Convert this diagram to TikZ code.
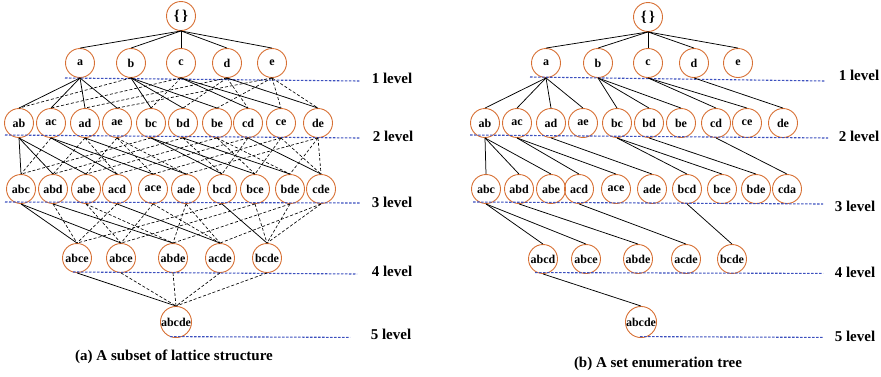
\documentclass[tikz,border=0pt]{standalone}
\usepackage{fontspec}
\setmainfont{Liberation Serif}
\definecolor{nodeorange}{RGB}{215,112,52}
\definecolor{levelblue}{RGB}{60,80,190}
\begin{document}
\begin{tikzpicture}[x=1pt,y=-1pt,
  setnode/.style={circle,draw=nodeorange,line width=0.9pt,minimum size=29pt,inner sep=0pt,
    font=\bfseries\fontsize{12}{12}\selectfont},
  tree/.style={draw=black,line width=0.75pt},
  lat/.style={draw=black,line width=0.65pt,dash pattern=on 3pt off 2pt},
  levelline/.style={draw=levelblue,line width=1.1pt,dash pattern=on 2.5pt off 1.5pt},
  leveltext/.style={font=\bfseries\fontsize{15}{15}\selectfont},
  captext/.style={font=\bfseries\fontsize{15}{15}\selectfont}]
\useasboundingbox (0,0) rectangle (881,376);

% ================= LEFT: lattice =================
\node[setnode,font=\bfseries\fontsize{15}{15}\selectfont] (L-0) at (181,16) {\{\,\}};
\foreach \n/\x in {a/80,b/131,c/181,d/227,e/272}
  \node[setnode] (L-\n) at (\x,63) {\n};
\foreach \n/\x in {ab/19,ac/51,ad/85,ae/117,bc/151,bd/183,be/217,cd/248,ce/281,de/318}
  \node[setnode] (L-\n) at (\x,123) {\n};
\foreach \n/\x in {abc/21,abd/53,abe/86,acd/117,ace/153,ade/186,bcd/222,bce/255,bde/290,cde/321}
  \node[setnode] (L-\n) at (\x,189) {\n};
\node[setnode] (L-abcd) at (77,258) {abce};
\foreach \n/\x in {abce/121,abde/173,acde/220,bcde/267}
  \node[setnode] (L-\n) at (\x,258) {\n};
\node[setnode] (L-abcde) at (176,322) {abcde};

% level lines and labels (left)
\coordinate (LL1a) at (65,78);  \coordinate (LL1b) at (360,81);
\coordinate (LL2a) at (5,135);  \coordinate (LL2b) at (360,138);
\coordinate (LL3a) at (5,202);  \coordinate (LL3b) at (360,203);
\coordinate (LL4a) at (73,272); \coordinate (LL4b) at (357,274);
\coordinate (LL5a) at (170,336.6);\coordinate (LL5b) at (350,337.4);
\foreach \i in {1,...,5} \draw[levelline] (LL\i a) -- (LL\i b);
\node[leveltext] (LT1) at (392,78) {1 level};
\node[leveltext] (LT2) at (393,136) {2 level};
\node[leveltext] (LT3) at (392,202) {3 level};
\node[leveltext] (LT4) at (392,271) {4 level};
\node[leveltext] (LT5) at (391,334) {5 level};
\node[captext] (LCap) at (174,357) {(a) A subset of lattice structure};

% edges (left)
\foreach \c in {a,b,c,d,e} \draw[tree] (L-0.south) -- (L-\c.north);
\foreach \p/\c in {a/ab,a/ac,a/ad,a/ae,b/bc,b/bd,b/be,c/cd,c/ce,d/de,
  ab/abc,ab/abd,ab/abe,ac/acd,ac/ace,ad/ade,bc/bcd,bc/bce,bd/bde,cd/cde,
  abc/abcd,abc/abce,abd/abde,acd/acde,bcd/bcde,abcd/abcde}
  \draw[tree] (L-\p.south) -- (L-\c.north);
\foreach \p/\c in {b/ab,c/ac,d/ad,e/ae,c/bc,d/bd,e/be,d/cd,e/ce,e/de,
  ac/abc,bc/abc,ad/abd,bd/abd,ae/abe,be/abe,ad/acd,cd/acd,ae/ace,ce/ace,
  ae/ade,de/ade,bd/bcd,cd/bcd,be/bce,ce/bce,be/bde,de/bde,ce/cde,de/cde,
  abd/abcd,acd/abcd,bcd/abcd,abe/abce,ace/abce,bce/abce,abe/abde,ade/abde,bde/abde,
  ace/acde,ade/acde,cde/acde,bce/bcde,bde/bcde,cde/bcde,
  abce/abcde,abde/abcde,acde/abcde,bcde/abcde}
  \draw[lat] (L-\p.south) -- (L-\c.north);

% ================= RIGHT: set enumeration tree =================
\node[setnode,font=\bfseries\fontsize{15}{15}\selectfont] (R-0) at (648,17) {\{\,\}};
\foreach \n/\x in {a/546,b/598,c/648,d/694,e/738}
  \node[setnode] (R-\n) at (\x,63) {\n};
\foreach \n/\x in {ab/485,ac/517,ad/551,ae/583,bc/617,bd/649,be/681,cd/716,ce/747,de/783}
  \node[setnode] (R-\n) at (\x,123) {\n};
\foreach \n/\x in {abc/486,abd/519,abe/551,acd/579,ace/616,ade/652,bcd/687,bce/722,bde/756}
  \node[setnode] (R-\n) at (\x,189) {\n};
\node[setnode] (R-cde) at (787,189) {cda};
\foreach \n/\x in {abcd/543,abce/586,abde/638,acde/686,bcde/732}
  \node[setnode] (R-\n) at (\x,259) {\n};
\node[setnode] (R-abcde) at (641,322) {abcde};

\coordinate (RL1a) at (530,77);  \coordinate (RL1b) at (825,81);
\coordinate (RL2a) at (470,135); \coordinate (RL2b) at (828,138);
\coordinate (RL3a) at (473,202); \coordinate (RL3b) at (823,204);
\coordinate (RL4a) at (535,272.6); \coordinate (RL4b) at (823,273.4);
\coordinate (RL5a) at (640,336.6); \coordinate (RL5b) at (823,337.4);
\foreach \i in {1,...,5} \draw[levelline] (RL\i a) -- (RL\i b);
\node[leveltext] (RT1) at (859,75) {1 level};
\node[leveltext] (RT2) at (859,136) {2 level};
\node[leveltext] (RT3) at (855,206) {3 level};
\node[leveltext] (RT4) at (855,272) {4 level};
\node[leveltext] (RT5) at (855,336) {5 level};
\node[captext] (RCap) at (658,364) {(b) A set enumeration tree};

\foreach \c in {a,b,c,d,e} \draw[tree] (R-0.south) -- (R-\c.north);
\foreach \p/\c in {a/ab,a/ac,a/ad,a/ae,b/bc,b/bd,b/be,c/cd,c/ce,d/de,
  ab/abc,ab/abd,ab/abe,ac/acd,ac/ace,ad/ade,bc/bcd,bc/bce,bd/bde,cd/cde,
  abc/abcd,abc/abce,abd/abde,acd/acde,bcd/bcde,abcd/abcde}
  \draw[tree] (R-\p.south) -- (R-\c.north);
\end{tikzpicture}
\end{document}
